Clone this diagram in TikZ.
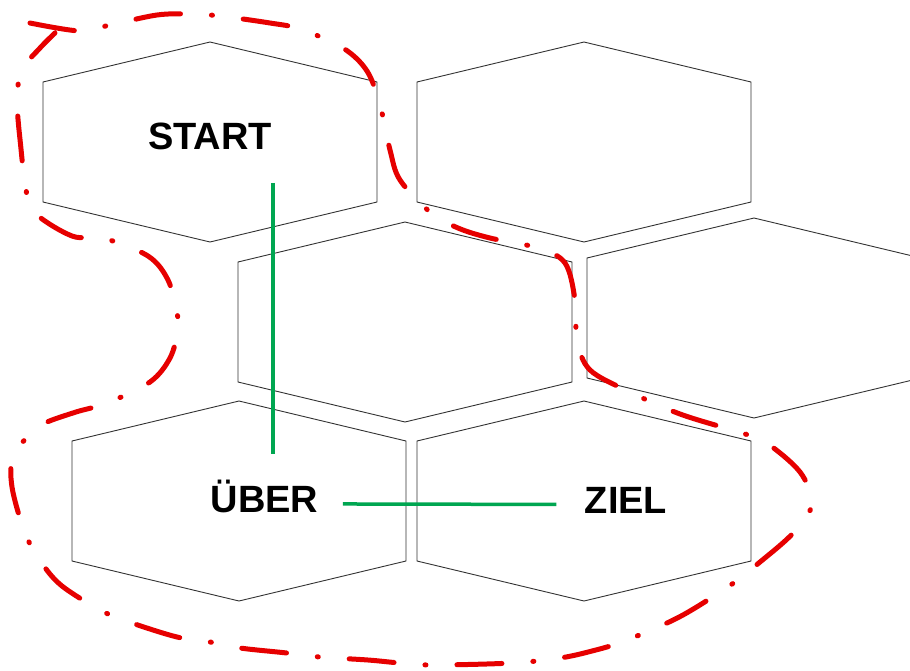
\documentclass[tikz,border=0pt]{standalone}
\usepackage{fontspec}
\newfontfamily\hexfont{Liberation Sans}
\definecolor{routegreen}{RGB}{0,166,81}
\definecolor{borderred}{RGB}{230,0,0}
\tikzset{
  cell/.style={draw=black!80, line width=0.9pt},
  lbl/.style={font=\hexfont\bfseries\fontsize{38}{40}\selectfont, anchor=base},
  route/.style={draw=routegreen, line width=3.5pt},
  border/.style={draw=borderred, line width=5pt, line cap=round,
    dash pattern=on 45pt off 31pt on 1pt off 31pt}
}
\begin{document}
\begin{tikzpicture}[x=1pt,y=-1pt]
\useasboundingbox (0,0) rectangle (910,670);

\foreach \cx/\cy in {210/142, 584/142, 405/322, 754/318, 239/501, 584/501}
  \draw[cell] (\cx-167,\cy-60) -- (\cx,\cy-100) -- (\cx+167,\cy-60)
    -- (\cx+167,\cy+60) -- (\cx,\cy+100) -- (\cx-167,\cy+60) -- cycle;

\node[lbl] (start) at (210,149) {START};
\node[lbl] (ueber) at (264.5,512) {ÜBER};
\node[lbl] (ziel) at (626,513) {ZIEL};

\draw[route] ([xshift=63pt,yshift=-30pt]start.south) -- ([xshift=8.5pt,yshift=22pt]ueber.north);
\draw[route] ([xshift=21pt,yshift=-8pt]ueber.east) -- ([xshift=-25pt,yshift=-4.5pt]ziel.west);

\draw[border] plot[smooth, tension=0.55] coordinates {
  (30,23) (80,31) (110,25) (157,15) (190,14) (220,16) (270,23) (300,29)
  (343,48) (367,71) (380,105) (390,150) (400,180) (430,212) (458,228)
  (490,238) (538,248) (565,263) (575,300) (577,340) (590,370) (630,392)
  (680,414) (735,431) (765,442) (800,472) (812,503) (800,525) (785,541)
  (760,562) (735,582) (695,608) (667,623) (622,642) (592,651) (560,658)
  (512,663) (433,665) (400,663) (368,660) (320,657) (287,653) (240,648)
  (210,642) (177,637) (132,623) (102,611) (62,586) (41,562) (25,533)
  (12,487) (13,455) (30,435) (45,423) (76,412) (107,403) (150,382)
  (170,358) (178,330) (177,313) (168,280) (148,256) (103,238) (72,236)
  (33,211) (25,181) (21,149) (17,100) (22,70) (40,48) (55,33)};
\end{tikzpicture}
\end{document}
